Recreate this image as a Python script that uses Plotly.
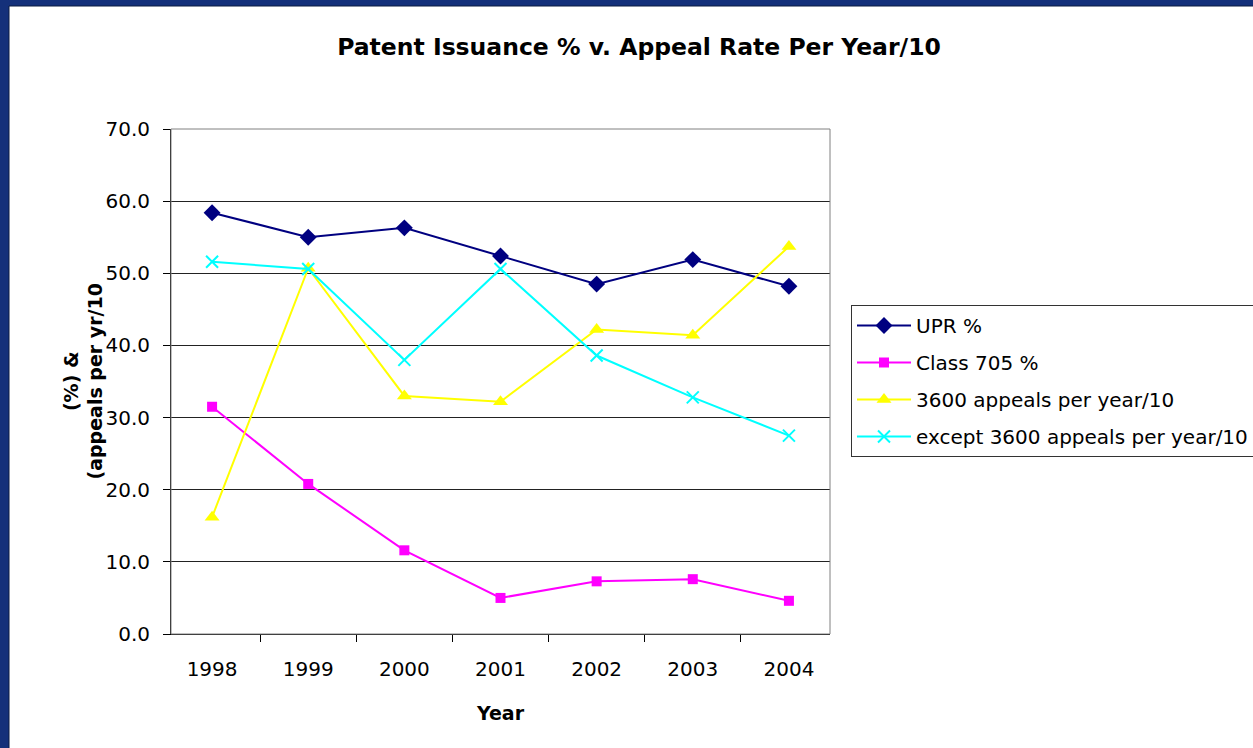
import plotly.graph_objects as go

years = ["1998", "1999", "2000", "2001", "2002", "2003", "2004"]
upr = [58.4, 55.0, 56.3, 52.4, 48.5, 51.9, 48.2]
class705 = [31.5, 20.8, 11.6, 5.0, 7.3, 7.6, 4.6]
appeals3600 = [16.2, 50.7, 33.0, 32.2, 42.2, 41.4, 53.7]
except3600 = [51.6, 50.6, 38.0, 50.6, 38.6, 32.8, 27.5]

W, H = 1253, 748
ML, MR, MT, MB = 171, 423, 129, 114
PW, PH = W - ML - MR, H - MT - MB

def px(x):
    return (x - ML) / PW

def py(y):
    return (H - MB - y) / PH

FONT = "DejaVu Sans, Liberation Sans, Arial, sans-serif"

fig = go.Figure()
series = [
    ("UPR %", upr, "#000080", "diamond", 13, None),
    ("Class 705 %", class705, "#FF00FF", "square", 10, None),
    ("3600 appeals per year/10", appeals3600, "#FFFF00", "triangle-up", 13, None),
    ("except 3600 appeals per year/10", except3600, "#00FFFF", "x-thin", 12, 2),
]
for i, (name, vals, col, sym, sz, lw) in enumerate(series):
    marker = dict(symbol=sym, size=sz, color=col)
    if lw:
        marker["line"] = dict(color=col, width=lw)
    fig.add_trace(go.Scatter(
        x=years, y=vals, name=name, mode="lines+markers",
        line=dict(color=col, width=2), marker=marker,
        legendgroup=f"g{i}",
    ))

fig.add_shape(type="rect", xref="paper", yref="paper",
              x0=px(9), x1=px(1270), y0=py(765), y1=py(6),
              fillcolor="white", line=dict(color="#0a1a40", width=1), layer="below")

fig.add_annotation(
    text="<b>(%) &<br>(appeals per yr/10</b>", textangle=-90,
    xref="paper", yref="paper", x=px(83), y=0.5,
    xanchor="center", yanchor="middle", showarrow=False,
    font=dict(size=19, color="black", family=FONT),
)

fig.update_layout(
    width=W, height=H,
    margin=dict(l=ML, r=MR, t=MT, b=MB, autoexpand=False),
    paper_bgcolor="#14307A",
    plot_bgcolor="#C0C0C0",
    font=dict(family=FONT, size=20, color="black"),
    title=dict(text="<b>Patent Issuance % v. Appeal Rate Per Year/10</b>",
               x=639 / W, xanchor="center", y=1 - 47 / H, yanchor="middle",
               font=dict(size=23.5, color="black")),
    showlegend=True,
    legend=dict(xref="container", yref="container",
                x=851 / W, y=1 - 305 / H, xanchor="left", yanchor="top",
                bgcolor="white", bordercolor="#333333", borderwidth=1,
                font=dict(size=20, color="black"), tracegroupgap=8,
                itemwidth=54),
    xaxis=dict(
        type="category", tickson="boundaries", ticks="outside", ticklen=7,
        tickcolor="black", showline=True, linecolor="black", linewidth=1,
        mirror=False, showgrid=False, zeroline=False,
        ticklabelstandoff=17,
        title=dict(text="<b>Year</b>", font=dict(size=19), standoff=26),
        tickfont=dict(size=20),
    ),
    yaxis=dict(
        range=[0, 70], dtick=10, tickformat=".1f", ticks="outside", ticklen=7,
        tickcolor="black", showline=True, linecolor="black", linewidth=1,
        showgrid=True, gridcolor="#222222", gridwidth=1, zeroline=False,
        ticklabelstandoff=9,
        tickfont=dict(size=20),
    ),
)
fig.add_shape(type="rect", xref="paper", yref="paper", x0=0, x1=1, y0=0, y1=1,
              line=dict(color="#808080", width=1), layer="above")

fig.write_html("out.html", config={"displayModeBar": False},
               post_script="document.body.style.margin='0';document.body.style.padding='0';")
